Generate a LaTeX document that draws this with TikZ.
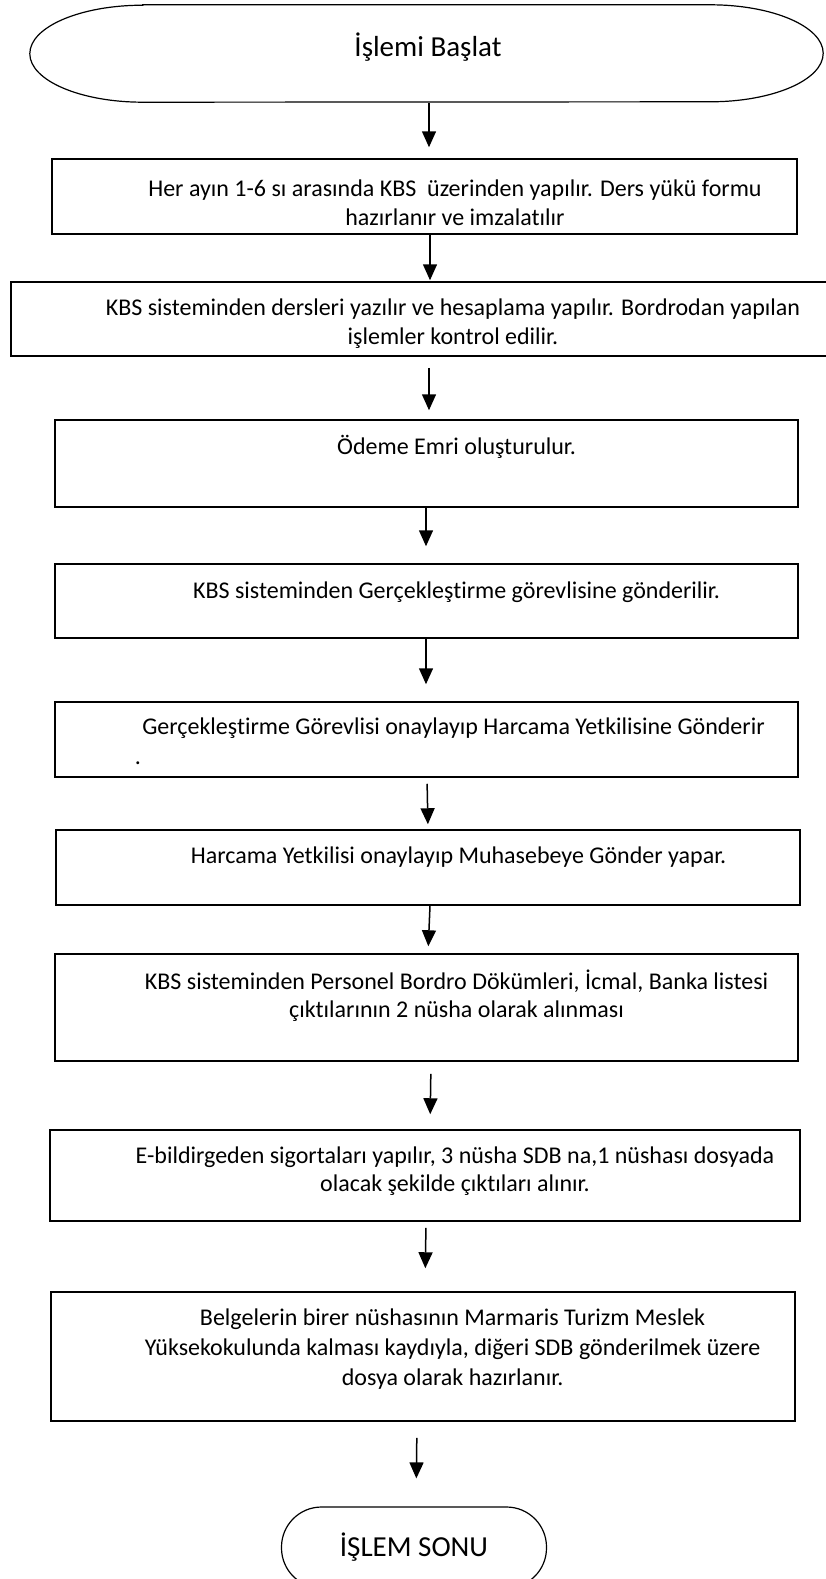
\documentclass[tikz,border=0pt]{standalone}
\usepackage{fontspec}
\setmainfont{Carlito}[Ligatures=NoCommon]
\usetikzlibrary{positioning,arrows.meta}
\tikzset{
  stepbox/.style={draw=black, line width=1.5pt, minimum width=743pt, minimum height=75pt, inner sep=0pt},
  steptext/.style={align=center, inner sep=0pt, font=\fontsize{24pt}{29pt}\selectfont},
  termline/.style={line width=1.2pt},
  arr/.style={-{Triangle[length=16pt,width=14pt]}, line width=1.5pt},
}

\begin{document}
\begin{tikzpicture}[x=1pt, y=-1pt]
  \useasboundingbox (0,0) rectangle (826,1579);
  % start
  \node[minimum width=793pt, minimum height=97pt, inner sep=0pt] (start) at (426.5,53.5) {};
  \draw[termline] ([xshift=113pt]start.north west) -- ([xshift=-113pt]start.north east)
    arc[start angle=90, end angle=-90, x radius=113pt, y radius=48.5pt]
    -- ([xshift=113pt]start.south west)
    arc[start angle=270, end angle=90, x radius=113pt, y radius=48.5pt] -- cycle;
  \node[steptext, font=\fontsize{29pt}{32pt}\selectfont] (t0) at (428,47) {İşlemi Başlat};

  % steps
  \node[stepbox, minimum width=745pt] (b1) at (424.5,196.5) {};
  \node[steptext] (t1) at (455,202.5) {Her ayın 1-6 sı arasında KBS~ üzerinden yapılır. Ders yükü formu\\hazırlanır ve imzalatılır};
  \node[stepbox, minimum width=819pt, minimum height=74pt] (b2) at (420.3,319) {};
  \node[steptext] (t2) at (453,324) {KBS sisteminden dersleri yazılır ve hesaplama yapılır. Bordrodan yapılan\\işlemler kontrol edilir.};
  \node[stepbox, minimum height=87pt] (b3) at (426.5,463.5) {};
  \node[steptext] (t3) at (456.6,447) {Ödeme Emri oluşturulur.};
  \node[stepbox, minimum height=74pt] (b4) at (426.5,601) {};
  \node[steptext] (t4) at (456.5,592) {KBS sisteminden Gerçekleştirme görevlisine gönderilir.};
  \node[stepbox] (b5) at (426.5,739.5) {};
  \node[steptext] (t5) at (453.5,728) {Gerçekleştirme Görevlisi onaylayıp Harcama Yetkilisine Gönderir};
  \node[steptext] (dot) at (138,763) {.};
  \node[stepbox, minimum width=744pt] (b6) at (428,867.5) {};
  \node[steptext] (t6) at (458.6,857) {Harcama Yetkilisi onaylayıp Muhasebeye Gönder yapar.};
  \node[stepbox, minimum height=107pt] (b7) at (426.5,1007.5) {};
  \node[steptext, font=\fontsize{24pt}{28pt}\selectfont] (t7) at (456.6,996) {KBS sisteminden Personel Bordro Dökümleri, İcmal, Banka listesi\\çıktılarının 2 nüsha olarak alınması};
  \node[stepbox, minimum width=750pt, minimum height=91pt] (b8) at (425,1175.5) {};
  \node[steptext, font=\fontsize{24pt}{28pt}\selectfont] (t8) at (455,1171) {E-bildirgeden sigortaları yapılır, 3 nüsha SDB na,1 nüshası dosyada\\olacak şekilde çıktıları alınır.};
  \node[stepbox, minimum width=744pt, minimum height=129pt] (b9) at (423,1356.5) {};
  \node[steptext, font=\fontsize{24pt}{30pt}\selectfont] (t9) at (452.6,1349) {Belgelerin birer nüshasının Marmaris Turizm Meslek\\Yüksekokulunda kalması kaydıyla, diğeri SDB gönderilmek üzere\\dosya olarak hazırlanır.};

  % end
  \node[draw, termline, rounded corners=40pt, minimum width=265pt, minimum height=81pt, inner sep=0pt,
        font=\fontsize{29pt}{32pt}\selectfont] (stop) at (414,1547.5) {İŞLEM SONU};

  \foreach \a/\b/\xa/\xb/\sa/\sb in {start/b1/2.5/4.5/1/11, b1/b2/5.5/9.7/0/1, b2/b3/8.7/2.5/11/9,
      b3/b4/-0.5/-0.5/0/17, b4/b5/-0.5/-0.5/0/17, b5/b6/0.5/0/6/5, b6/b7/2/1.5/0/7,
      b7/b8/4.5/5/12/15, b8/b9/1/2/6/23, b9/stop/-6/2/16/28}
    \draw[arr, shorten <=\sa pt, shorten >=\sb pt] ([xshift=\xa pt]\a.south) -- ([xshift=\xb pt]\b.north);
\end{tikzpicture}
\end{document}
